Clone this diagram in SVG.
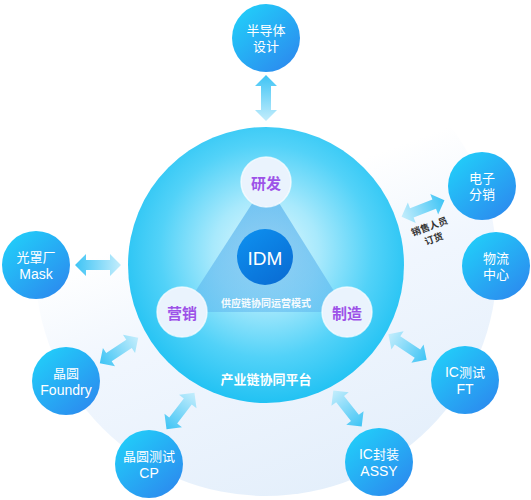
<svg xmlns="http://www.w3.org/2000/svg" width="531" height="500" viewBox="0 0 531 500">
<defs>
<linearGradient id="bgPale" x1="0.25" y1="0.05" x2="0.6" y2="1">
<stop offset="0.36" stop-color="#eef5fd" stop-opacity="0"/>
<stop offset="0.58" stop-color="#f0f6fe" stop-opacity="0.95"/>
<stop offset="1" stop-color="#e4effb"/>
</linearGradient>
<radialGradient id="mainGrad" cx="0.5" cy="0.45" r="0.55">
<stop offset="0" stop-color="#e2f9fe"/>
<stop offset="0.35" stop-color="#a8e9fc"/>
<stop offset="0.7" stop-color="#52d2f8"/>
<stop offset="1" stop-color="#22c2f3"/>
</radialGradient>
<linearGradient id="nodeGrad" x1="0.15" y1="0.1" x2="0.85" y2="0.9">
<stop offset="0" stop-color="#22cbf9"/>
<stop offset="1" stop-color="#2b8def"/>
</linearGradient>
<linearGradient id="idmGrad" x1="0.2" y1="0.1" x2="0.8" y2="0.9">
<stop offset="0" stop-color="#0d8cec"/>
<stop offset="1" stop-color="#0a6fd6"/>
</linearGradient>
<linearGradient id="triGrad" x1="0" y1="0" x2="0" y2="1">
<stop offset="0" stop-color="#4aa8ea" stop-opacity="0.6"/>
<stop offset="1" stop-color="#5fb6ee" stop-opacity="0.55"/>
</linearGradient>
<linearGradient id="arrowGrad" x1="0" y1="0" x2="1" y2="0">
<stop offset="0" stop-color="#3ec4f5"/>
<stop offset="1" stop-color="#c4edfc"/>
</linearGradient>
<path id="arr" d="M-23,0 L-12,-11 L-12,-5 L12,-5 L12,-11 L23,0 L12,11 L12,5 L-12,5 L-12,11 Z"/>
</defs>
<style>
.node{fill:url(#nodeGrad);}
.nt{fill:#ffffff;font-family:"Liberation Sans","Noto Sans CJK SC",sans-serif;text-anchor:middle;dominant-baseline:central;}
.cj{font-size:13px;}
.la{font-size:14px;}
.inner{fill:#eaf3fd;stroke:#ffffff;stroke-opacity:0.7;stroke-width:1.5;}
.it{fill:#9d52e8;font-family:"Noto Sans CJK SC","Liberation Sans",sans-serif;font-size:15px;font-weight:bold;text-anchor:middle;dominant-baseline:central;}
.arrow{fill:url(#arrowGrad);}
</style>
<rect width="531" height="500" fill="#ffffff"/>
<circle cx="266" cy="265" r="231" fill="url(#bgPale)"/>

<g id="platform">
<circle cx="266" cy="265" r="138" fill="url(#mainGrad)"/>
<polygon points="266,182 182,312 347,312" fill="url(#triGrad)"/>
<text x="266" y="378" class="nt" style="font-size:13px;font-weight:bold;font-family:'Noto Sans CJK SC',sans-serif">产业链协同平台</text>
<text x="266" y="302" class="nt" style="font-size:10px;font-weight:bold;font-family:'Noto Sans CJK SC',sans-serif;fill-opacity:0.95">供应链协同运营模式</text>
</g>
<g id="idm">
<circle cx="265" cy="257" r="28" fill="url(#idmGrad)"/>
<text x="265" y="258" class="nt" style="font-size:19px">IDM</text>
</g>
<g id="rd">
<circle cx="266" cy="182" r="25" class="inner"/>
<text x="266" y="182" class="it">研发</text>
</g>
<g id="sales">
<circle cx="182" cy="312" r="25" class="inner"/>
<text x="182" y="312" class="it">营销</text>
</g>
<g id="mfg">
<circle cx="347" cy="312" r="25" class="inner"/>
<text x="347" y="312" class="it">制造</text>
</g>

<g id="connectors">
<use href="#arr" class="arrow" transform="translate(266,98) rotate(90)"/>
<use href="#arr" class="arrow" transform="translate(423,208.5) rotate(158.9)"/>
<use href="#arr" class="arrow" transform="translate(98,265) rotate(0)"/>
<use href="#arr" class="arrow" transform="translate(119,350.5) rotate(-33.3)"/>
<use href="#arr" class="arrow" transform="translate(180.5,411) rotate(-52.6)"/>
<use href="#arr" class="arrow" transform="translate(347.5,408.5) rotate(-128.1)"/>
<use href="#arr" class="arrow" transform="translate(407.5,347) rotate(-146.3)"/>
<g transform="translate(430,231) rotate(-20)" style="font-family:'Noto Sans CJK SC',sans-serif;font-size:9.5px;font-weight:bold;fill:#333333;text-anchor:middle;dominant-baseline:central">
<text x="1" y="-5">销售人员</text>
<text x="1" y="8">订货</text>
</g>
</g>

<g id="design">
<circle cx="266" cy="38" r="34" class="node"/>
<text x="266" y="30" class="nt cj">半导体</text>
<text x="266" y="46" class="nt cj">设计</text>
</g>
<g id="distribution">
<circle cx="482" cy="186" r="34" class="node"/>
<text x="482" y="178" class="nt cj">电子</text>
<text x="482" y="194" class="nt cj">分销</text>
</g>
<g id="logistics">
<circle cx="496" cy="266" r="34" class="node"/>
<text x="496" y="258" class="nt cj">物流</text>
<text x="496" y="274" class="nt cj">中心</text>
</g>
<g id="ft">
<circle cx="465" cy="380" r="34" class="node"/>
<text x="465" y="372" class="nt la">IC<tspan class="cj">测试</tspan></text>
<text x="465" y="389" class="nt la">FT</text>
</g>
<g id="assy">
<circle cx="379" cy="462" r="34" class="node"/>
<text x="379" y="454" class="nt la">IC<tspan class="cj">封装</tspan></text>
<text x="379" y="471" class="nt la">ASSY</text>
</g>
<g id="cp">
<circle cx="149" cy="464" r="34" class="node"/>
<text x="149" y="456" class="nt cj">晶圆测试</text>
<text x="149" y="473" class="nt la">CP</text>
</g>
<g id="foundry">
<circle cx="66" cy="381" r="34" class="node"/>
<text x="66" y="373" class="nt cj">晶圆</text>
<text x="66" y="390" class="nt la">Foundry</text>
</g>
<g id="mask">
<circle cx="36" cy="265" r="34" class="node"/>
<text x="36" y="257" class="nt cj">光罩厂</text>
<text x="36" y="274" class="nt la">Mask</text>
</g>
</svg>
